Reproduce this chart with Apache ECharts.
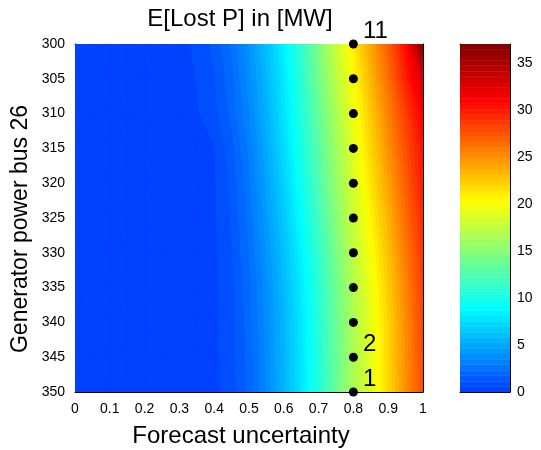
<!DOCTYPE html>
<html>
<head>
<meta charset="utf-8">
<script src="https://cdn.jsdelivr.net/npm/echarts@6/dist/echarts.min.js"></script>
<style>
  html, body { margin: 0; padding: 0; background: #ffffff; }
  #chart { width: 541px; height: 450px; }
</style>
</head>
<body>
<div id="chart"></div>
<script>
// Grid of forecast uncertainty (columns) and generator power at bus 26 (rows)
const uncertainty = [0, 0.05, 0.1, 0.15, 0.2, 0.25, 0.3, 0.35, 0.4, 0.45, 0.5,
                     0.55, 0.6, 0.65, 0.7, 0.75, 0.8, 0.85, 0.9, 0.95, 1];
const generatorPower = [300, 305, 310, 315, 320, 325, 330, 335, 340, 345, 350];

// Expected lost power [MW], one row per generator power value
const lostPower = [
  [0, 0, 0.01, 0.02, 0.05, 0.15, 0.35, 0.7, 1.3, 2.4, 4.0, 6.0, 8.4, 11.2, 14.5, 17.8, 21.0, 24.0, 27.0, 30.5, 36.8],
  [0, 0, 0.01, 0.02, 0.04, 0.12, 0.3, 0.6, 1.1, 2.1, 3.7, 5.7, 8.0, 10.8, 14.0, 17.2, 20.2, 23.3, 26.3, 29.6, 33.0],
  [0, 0, 0.01, 0.02, 0.04, 0.1, 0.25, 0.5, 0.95, 1.9, 3.4, 5.4, 7.7, 10.4, 13.4, 16.5, 19.5, 22.5, 25.5, 28.4, 31.2],
  [0, 0, 0.01, 0.02, 0.03, 0.08, 0.15, 0.3, 0.55, 1.5, 3.0, 5.0, 7.3, 10.0, 12.9, 16.0, 19.0, 21.9, 24.8, 27.6, 30.3],
  [0, 0, 0.01, 0.02, 0.03, 0.07, 0.13, 0.25, 0.5, 1.3, 2.7, 4.7, 6.9, 9.5, 12.4, 15.5, 18.5, 21.3, 24.1, 27.0, 29.8],
  [0, 0, 0.01, 0.02, 0.03, 0.07, 0.12, 0.23, 0.48, 1.2, 2.5, 4.4, 6.5, 9.0, 11.8, 14.9, 17.9, 20.6, 23.4, 26.4, 29.3],
  [0, 0, 0.01, 0.02, 0.03, 0.06, 0.12, 0.22, 0.45, 1.1, 2.3, 4.1, 6.1, 8.5, 11.2, 14.3, 17.3, 20.0, 22.8, 25.8, 28.8],
  [0, 0, 0.01, 0.02, 0.03, 0.06, 0.11, 0.2, 0.43, 1.0, 2.1, 3.8, 5.8, 8.1, 10.8, 13.8, 16.8, 19.5, 22.3, 25.3, 28.4],
  [0, 0, 0.01, 0.02, 0.03, 0.06, 0.11, 0.2, 0.42, 0.95, 2.0, 3.7, 5.6, 7.9, 10.6, 13.6, 16.6, 19.2, 22.0, 25.0, 28.1],
  [0, 0, 0.01, 0.02, 0.03, 0.06, 0.11, 0.2, 0.42, 0.92, 1.95, 3.6, 5.5, 7.8, 10.5, 13.5, 16.5, 19.1, 21.9, 24.9, 27.9],
  [0, 0, 0.01, 0.02, 0.03, 0.06, 0.12, 0.22, 0.42, 0.9, 1.9, 3.5, 5.5, 7.8, 10.5, 13.5, 16.5, 19.0, 21.8, 24.8, 27.8]
];

// Operating points marked on the map and their labels
const markerUncertainty = 0.8;
const markerPower = [300, 305, 310, 315, 320, 325, 330, 335, 340, 345, 350];
const markerLabels = ['11', '', '', '', '', '', '', '', '', '2', '1'];

// Colour scale
const colorMin = 0;
const colorMax = 37;
const levelCount = 64;
const colorStopValues = [0, 9, 20.3, 31, 37];
const colorStopRGB = [[0, 60, 255], [0, 255, 255], [255, 255, 0], [255, 0, 0], [128, 0, 0]];

const FONT = "'Liberation Sans', Arial, Helvetica, sans-serif";
const step = (colorMax - colorMin) / levelCount;

function rgb(c) {
  return 'rgb(' + Math.round(c[0]) + ',' + Math.round(c[1]) + ',' + Math.round(c[2]) + ')';
}
function colorAt(v) {
  if (v <= colorStopValues[0]) return rgb(colorStopRGB[0]);
  for (let k = 1; k < colorStopValues.length; k++) {
    if (v <= colorStopValues[k]) {
      const t = (v - colorStopValues[k - 1]) / (colorStopValues[k] - colorStopValues[k - 1]);
      const a = colorStopRGB[k - 1], b = colorStopRGB[k];
      return rgb([a[0] + t * (b[0] - a[0]), a[1] + t * (b[1] - a[1]), a[2] + t * (b[2] - a[2])]);
    }
  }
  return rgb(colorStopRGB[colorStopRGB.length - 1]);
}
function levelColor(k) {
  return colorAt(colorMin + (k + 0.5) * step);
}

// Sutherland-Hodgman clip of a polygon whose vertices carry a linear value
function clipByValue(poly, thr, keepAbove) {
  const out = [];
  for (let i = 0; i < poly.length; i++) {
    const p = poly[i], q = poly[(i + 1) % poly.length];
    const pin = keepAbove ? p[2] >= thr : p[2] <= thr;
    const qin = keepAbove ? q[2] >= thr : q[2] <= thr;
    if (pin) out.push(p);
    if (pin !== qin) {
      const t = (thr - p[2]) / (q[2] - p[2]);
      out.push([p[0] + t * (q[0] - p[0]), p[1] + t * (q[1] - p[1]), thr]);
    }
  }
  return out;
}

// One data item per grid cell; each cell is filled as banded contour levels
const cells = [];
for (let j = 0; j < generatorPower.length - 1; j++) {
  for (let i = 0; i < uncertainty.length - 1; i++) {
    cells.push([uncertainty[i], generatorPower[j], i, j]);
  }
}

function renderCell(params, api) {
  const i = api.value(2), j = api.value(3);
  const P = (ii, jj) => [uncertainty[ii], generatorPower[jj], lostPower[jj][ii]];
  const a = P(i, j), b = P(i + 1, j), c = P(i + 1, j + 1), d = P(i, j + 1);
  const tris = [[a, b, c], [a, c, d]];
  const children = [];
  tris.forEach(tri => {
    const vs = tri.map(p => p[2]);
    const vmin = Math.min.apply(null, vs), vmax = Math.max.apply(null, vs);
    const kmin = Math.max(0, Math.floor((vmin - colorMin) / step));
    const kmax = Math.min(levelCount - 1, Math.floor((vmax - colorMin) / step));
    for (let k = kmin; k <= kmax; k++) {
      let poly = tri;
      if (k > 0) poly = clipByValue(poly, colorMin + k * step, true);
      if (poly.length < 3) continue;
      if (k < levelCount - 1) poly = clipByValue(poly, colorMin + (k + 1) * step, false);
      if (poly.length < 3) continue;
      const col = levelColor(k);
      children.push({
        type: 'polygon',
        shape: { points: poly.map(p => api.coord([p[0], p[1]])) },
        style: { fill: col, stroke: col, lineWidth: 1, lineJoin: 'round' },
        silent: true
      });
    }
  });
  return { type: 'group', children: children };
}

// Colour bar bands
const levels = [];
for (let k = 0; k < levelCount; k++) levels.push([0, colorMin + k * step, k]);

function renderLevel(params, api) {
  const k = api.value(2);
  const p0 = api.coord([0, colorMin + k * step]);
  const p1 = api.coord([1, colorMin + (k + 1) * step]);
  const col = levelColor(k);
  return {
    type: 'rect',
    shape: { x: p0[0], y: p1[1], width: p1[0] - p0[0], height: p0[1] - p1[1] },
    style: { fill: col, stroke: col, lineWidth: 0.5 },
    silent: true
  };
}

const markers = markerPower.map((p, k) => [markerUncertainty, p, markerLabels[k]]);

const axisLineStyle = { show: true, onZero: false, lineStyle: { color: '#000', width: 1 } };
const tickStyle = { show: true, inside: true, length: 5, lineStyle: { color: '#000', width: 1 } };
const labelStyle = { color: '#000', fontFamily: FONT, fontSize: 14 };

const chart = echarts.init(document.getElementById('chart'), null, { renderer: 'canvas' });
chart.setOption({
  animation: false,
  backgroundColor: '#ffffff',
  grid: [
    { left: 75, top: 44, width: 348, height: 348, show: true, borderWidth: 0,
      backgroundColor: levelColor(0) },
    { left: 460, top: 44, width: 50, height: 348, show: false }
  ],
  xAxis: [
    { gridIndex: 0, type: 'value', min: 0, max: 1, interval: 0.1, position: 'bottom',
      axisLine: axisLineStyle, axisTick: tickStyle, splitLine: { show: false },
      axisLabel: Object.assign({ margin: 10, formatter: v => String(+v.toFixed(1)) }, labelStyle) },
    { gridIndex: 0, type: 'value', min: 0, max: 1, interval: 0.1, position: 'top',
      axisLine: axisLineStyle, axisTick: tickStyle, splitLine: { show: false },
      axisLabel: { show: false } },
    { gridIndex: 1, type: 'value', min: 0, max: 1, position: 'bottom',
      axisLine: axisLineStyle, axisTick: { show: false }, splitLine: { show: false },
      axisLabel: { show: false } },
    { gridIndex: 1, type: 'value', min: 0, max: 1, position: 'top',
      axisLine: axisLineStyle, axisTick: { show: false }, splitLine: { show: false },
      axisLabel: { show: false } }
  ],
  yAxis: [
    { gridIndex: 0, type: 'value', min: 300, max: 350, interval: 5, inverse: true, position: 'left',
      axisLine: axisLineStyle, axisTick: tickStyle, splitLine: { show: false },
      axisLabel: Object.assign({ margin: 10 }, labelStyle) },
    { gridIndex: 0, type: 'value', min: 300, max: 350, interval: 5, inverse: true, position: 'right',
      axisLine: axisLineStyle, axisTick: tickStyle, splitLine: { show: false },
      axisLabel: { show: false } },
    { gridIndex: 1, type: 'value', min: colorMin, max: colorMax, interval: 5, position: 'left',
      axisLine: axisLineStyle, axisTick: tickStyle, splitLine: { show: false },
      axisLabel: { show: false } },
    { gridIndex: 1, type: 'value', min: colorMin, max: colorMax, interval: 5, position: 'right',
      axisLine: axisLineStyle, axisTick: tickStyle, splitLine: { show: false },
      axisLabel: Object.assign({ margin: 7, showMaxLabel: false }, labelStyle) }
  ],
  graphic: [
    { type: 'text', x: 240, y: 19, z: 10,
      style: { text: 'E[Lost P] in [MW]', font: '24px ' + FONT, fill: '#000',
               textAlign: 'center', textVerticalAlign: 'middle', align: 'center', verticalAlign: 'middle' } },
    { type: 'text', x: 241, y: 436, z: 10,
      style: { text: 'Forecast uncertainty', font: '24px ' + FONT, fill: '#000',
               textAlign: 'center', textVerticalAlign: 'middle', align: 'center', verticalAlign: 'middle' } },
    { type: 'text', x: 21, y: 229, rotation: Math.PI / 2, z: 10,
      style: { text: 'Generator power bus 26', font: '23px ' + FONT, fill: '#000',
               textAlign: 'center', textVerticalAlign: 'middle', align: 'center', verticalAlign: 'middle' } }
  ],
  series: [
    { type: 'custom', xAxisIndex: 0, yAxisIndex: 0, data: cells, encode: { x: 0, y: 1 },
      renderItem: renderCell, clip: true, silent: true, z: 1 },
    { type: 'custom', xAxisIndex: 2, yAxisIndex: 2, data: levels, encode: { x: 0, y: 1 },
      renderItem: renderLevel, clip: true, silent: true, z: 1 },
    { type: 'scatter', xAxisIndex: 0, yAxisIndex: 0, data: markers, symbol: 'circle', symbolSize: 9,
      itemStyle: { color: '#000', opacity: 1 }, z: 5, silent: true,
      label: { show: true, position: 'right', distance: 5, offset: [0, -13],
               formatter: p => p.data[2], color: '#000', fontFamily: FONT, fontSize: 24 } }
  ]
});
</script>
</body>
</html>
